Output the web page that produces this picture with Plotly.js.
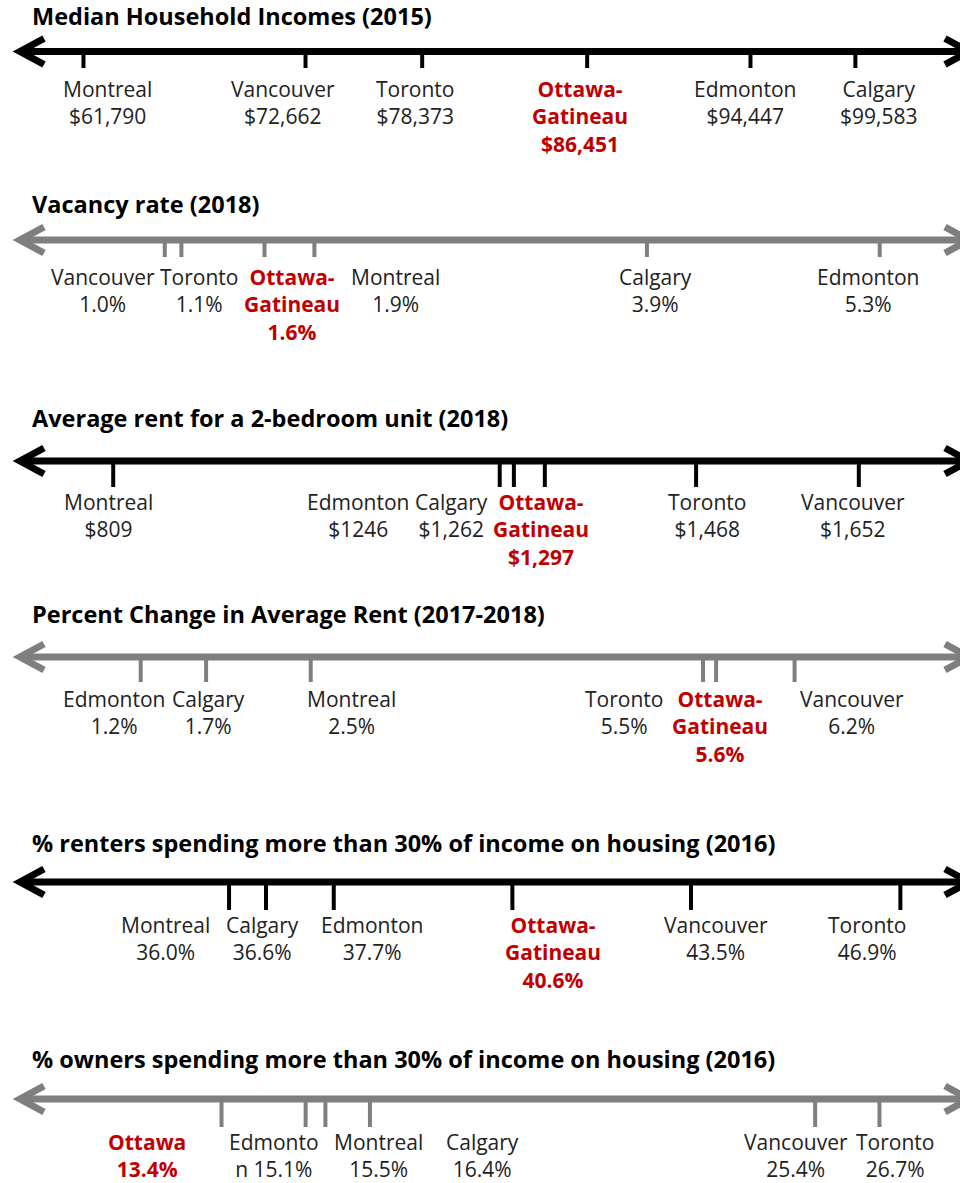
<!DOCTYPE html>
<html>
<head>
<meta charset="utf-8">
<script src="https://cdn.plot.ly/plotly-3.0.1.min.js"></script>
<style>html,body{margin:0;padding:0;background:#fff;}</style>
</head>
<body>
<div id="chart" style="width:960px;height:1183px;"></div>
<script>
// ---------------- DATA ----------------
const incomeTitle = 'Median Household Incomes (2015)';
const incomeCities = ['Montreal', 'Vancouver', 'Toronto', 'Ottawa-Gatineau', 'Edmonton', 'Calgary'];
const incomeValues = [61790, 72662, 78373, 86451, 94447, 99583];
const incomeText = ['$61,790', '$72,662', '$78,373', '$86,451', '$94,447', '$99,583'];

const vacancyTitle = 'Vacancy rate (2018)';
const vacancyCities = ['Vancouver', 'Toronto', 'Ottawa-Gatineau', 'Montreal', 'Calgary', 'Edmonton'];
const vacancyValues = [1.0, 1.1, 1.6, 1.9, 3.9, 5.3];
const vacancyText = ['1.0%', '1.1%', '1.6%', '1.9%', '3.9%', '5.3%'];

const rentTitle = 'Average rent for a 2-bedroom unit (2018)';
const rentCities = ['Montreal', 'Edmonton', 'Calgary', 'Ottawa-Gatineau', 'Toronto', 'Vancouver'];
const rentValues = [809, 1246, 1262, 1297, 1468, 1652];
const rentText = ['$809', '$1246', '$1,262', '$1,297', '$1,468', '$1,652'];

const changeTitle = 'Percent Change in Average Rent (2017-2018)';
const changeCities = ['Edmonton', 'Calgary', 'Montreal', 'Toronto', 'Ottawa-Gatineau', 'Vancouver'];
const changeValues = [1.2, 1.7, 2.5, 5.5, 5.6, 6.2];
const changeText = ['1.2%', '1.7%', '2.5%', '5.5%', '5.6%', '6.2%'];

const rentersTitle = '% renters spending more than 30% of income on housing (2016)';
const rentersCities = ['Montreal', 'Calgary', 'Edmonton', 'Ottawa-Gatineau', 'Vancouver', 'Toronto'];
const rentersValues = [36.0, 36.6, 37.7, 40.6, 43.5, 46.9];
const rentersText = ['36.0%', '36.6%', '37.7%', '40.6%', '43.5%', '46.9%'];

const ownersTitle = '% owners spending more than 30% of income on housing (2016)';
const ownersCities = ['Ottawa', 'Edmonton', 'Montreal', 'Calgary', 'Vancouver', 'Toronto'];
const ownersValues = [13.4, 15.1, 15.5, 16.4, 25.4, 26.7];
const ownersText = ['13.4%', '15.1%', '15.5%', '16.4%', '25.4%', '26.7%'];
// label wrapping as it appears in the original graphic
const ownersLabels = ['Ottawa<br>13.4%', 'Edmonto<br>n 15.1%', 'Montreal<br>15.5%', 'Calgary<br>16.4%', 'Vancouver<br>25.4%', 'Toronto<br>26.7%'];

// ---------------- LAYOUT / STYLE ----------------
const W = 960, H = 1183;
const FONT = '"Open Sans", "Noto Sans", sans-serif';
const RED = '#C00000';
const BLACK = '#000000';
const GREY = '#7F7F7F';
const TEXT = '#222222';

const rows = [
  {title: incomeTitle, cities: incomeCities, values: incomeValues, text: incomeText},
  {title: vacancyTitle, cities: vacancyCities, values: vacancyValues, text: vacancyText},
  {title: rentTitle, cities: rentCities, values: rentValues, text: rentText},
  {title: changeTitle, cities: changeCities, values: changeValues, text: changeText},
  {title: rentersTitle, cities: rentersCities, values: rentersValues, text: rentersText},
  {title: ownersTitle, cities: ownersCities, values: ownersValues, text: ownersText, labels: ownersLabels}
];

// pixel geometry of each number line (y in px from top), axis ranges, label nudges
const geom = [
  {lineY: 51.5, tickBottom: 68,  labelTop: 82,   titleTop: 10,   color: BLACK, range: [57703, 104706], shift: [24, -23, -7, -7, -5, 23]},
  {lineY: 240,  tickBottom: 257, labelTop: 270,  titleTop: 198,  color: GREY,  range: [0.009, 5.783],  shift: [-62, 18, 27, 81, 9, -12]},
  {lineY: 461,  tickBottom: 487, labelTop: 495,  titleTop: 412,  color: BLACK, range: [681, 1766.4],   shift: [-5, -142, -62, -4, 11, -6]},
  {lineY: 657,  tickBottom: 682, labelTop: 692,  titleTop: 608,  color: GREY,  range: [0.124, 7.465],  shift: [-27, 2, 41, -79, 4, 57]},
  {lineY: 882,  tickBottom: 910, labelTop: 918,  titleTop: 837,  color: BLACK, range: [32.281, 47.868], shift: [-64, -4, 38, 41, 25, -33]},
  {lineY: 1099, tickBottom: 1127, labelTop: 1135, titleTop: 1053, color: GREY, range: [8.922, 28.328], shift: [-75, -32, 53, 113, -19, 16]}
];

const LABEL_SIZE = 21, TITLE_SIZE = 23.5;
const LABEL_PAD = 9, TITLE_PAD = 12;   // box top -> cap top
const LINE_W = 7;
const LEFT_V = 20, RIGHT_V = 969, HEAD_DX = 24, HEAD_DY = 13;   // arrow geometry (px)
const py = px => 1 - px / H;
const pxX = px => px / W;

const traces = [];
const annotations = [];
const shapes = [];
const layout = {
  width: W, height: H,
  margin: {l: 0, r: 0, t: 0, b: 0, pad: 0},
  paper_bgcolor: '#ffffff', plot_bgcolor: 'rgba(0,0,0,0)',
  showlegend: false,
  font: {family: FONT, color: TEXT},
  annotations: annotations,
  shapes: shapes
};

rows.forEach((row, i) => {
  const g = geom[i];
  const n = i + 1;
  const xa = 'x' + (n === 1 ? '' : n);
  const ya = 'y' + (n === 1 ? '' : n);
  layout['xaxis' + (n === 1 ? '' : n)] = {
    domain: [0, 1], range: g.range, anchor: ya, visible: false, fixedrange: true
  };
  layout['yaxis' + (n === 1 ? '' : n)] = {
    domain: [py(g.tickBottom), py(g.lineY)], range: [-1, 0], anchor: xa, visible: false, fixedrange: true
  };

  // tick marks from the values
  const tx = [], ty = [];
  row.values.forEach(v => { tx.push(v, v, null); ty.push(0, -1, null); });
  traces.push({
    type: 'scatter', mode: 'lines', x: tx, y: ty, xaxis: xa, yaxis: ya,
    line: {color: g.color, width: 4}, hoverinfo: 'skip', cliponaxis: false
  });

  // title
  annotations.push({
    xref: 'paper', yref: 'paper', x: 30 / W, y: py(g.titleTop - TITLE_PAD),
    xanchor: 'left', yanchor: 'top', showarrow: false,
    text: '<b>' + row.title + '</b>',
    font: {family: FONT, size: TITLE_SIZE, color: '#000000'}
  });

  // double-headed number line (shaft + two chevrons)
  const y0 = g.lineY;
  shapes.push({
    type: 'line', xref: 'paper', yref: 'paper', layer: 'above',
    x0: pxX(LEFT_V), x1: pxX(RIGHT_V), y0: py(y0), y1: py(y0),
    line: {color: g.color, width: LINE_W}
  });
  shapes.push({
    type: 'path', xref: 'paper', yref: 'paper', layer: 'above',
    path: 'M' + pxX(LEFT_V + HEAD_DX) + ',' + py(y0 - HEAD_DY) +
          ' L' + pxX(LEFT_V) + ',' + py(y0) +
          ' L' + pxX(LEFT_V + HEAD_DX) + ',' + py(y0 + HEAD_DY),
    line: {color: g.color, width: LINE_W}, fillcolor: 'rgba(0,0,0,0)'
  });
  shapes.push({
    type: 'path', xref: 'paper', yref: 'paper', layer: 'above',
    path: 'M' + pxX(RIGHT_V - HEAD_DX) + ',' + py(y0 - HEAD_DY) +
          ' L' + pxX(RIGHT_V) + ',' + py(y0) +
          ' L' + pxX(RIGHT_V - HEAD_DX) + ',' + py(y0 + HEAD_DY),
    line: {color: g.color, width: LINE_W}, fillcolor: 'rgba(0,0,0,0)'
  });

  // city labels
  row.cities.forEach((c, j) => {
    const hi = c.indexOf('Ottawa') === 0;
    let txt = row.labels ? row.labels[j] : c.replace('-', '-<br>') + '<br>' + row.text[j];
    if (hi) txt = '<b>' + txt + '</b>';
    annotations.push({
      xref: xa, yref: 'paper', x: row.values[j], y: py(g.labelTop - LABEL_PAD),
      xanchor: 'center', yanchor: 'top', xshift: g.shift[j], showarrow: false,
      align: 'center', text: txt,
      font: {family: FONT, size: LABEL_SIZE, color: hi ? RED : TEXT}
    });
  });
});

Plotly.newPlot('chart', traces, layout, {displayModeBar: false, staticPlot: true});
</script>
</body>
</html>
